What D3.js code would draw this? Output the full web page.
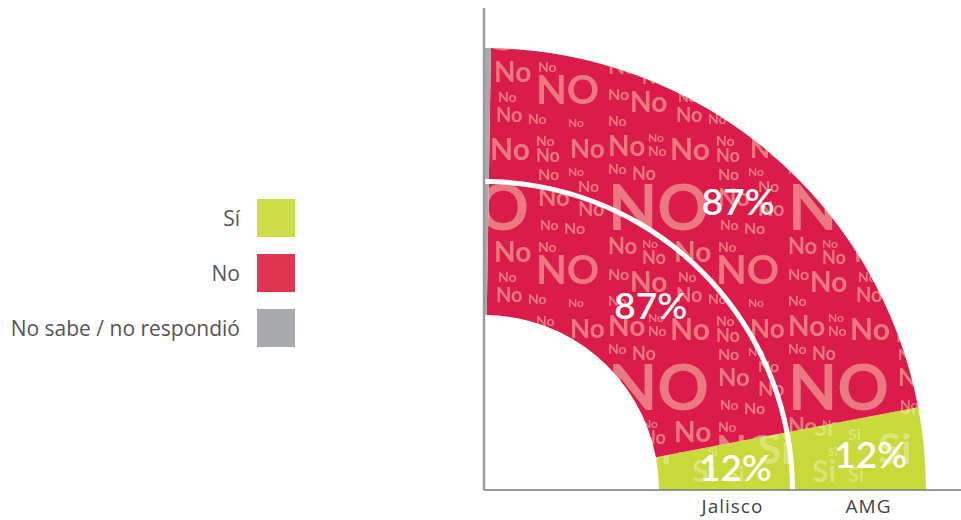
<!DOCTYPE html>
<html><head><meta charset="utf-8">
<script src="https://cdn.jsdelivr.net/npm/d3@7"></script>
<style>body{margin:0;background:#fff}svg{display:block}</style>
</head><body>
<svg id="c" width="961" height="520"></svg>
<script>
const categories = ["Jalisco", "AMG"];
const seriesKeys = ["Sí", "No", "No sabe / no respondió"];
const siValues = [12, 12];
const noValues = [87, 87];
const nsnrValues = [1, 1];
const percentLabels = ["12%", "87%", ""];

const colors = {"Sí": "#c8da3a", "No": "#db1c4a", "No sabe / no respondió": "#a7a9ac"};
const legendColors = {"Sí": "#cddd47", "No": "#e0344f", "No sabe / no respondió": "#a7a9ac"};

const rows = categories.map((c, i) => ({cat: c, "Sí": siValues[i], "No": noValues[i], "No sabe / no respondió": nsnrValues[i]}));
const stacked = d3.stack().keys(seriesKeys)(rows);

const svg = d3.select("#c");
const cx = 484, cy = 490;
const font = "Lato, 'Open Sans', sans-serif";
const labelFont = "'Open Sans', Lato, sans-serif";

// patterns
const defs = svg.append("defs");
function makePattern(id, bg, txtColor, items, w, h) {
  const p = defs.append("pattern").attr("id", id).attr("patternUnits", "userSpaceOnUse")
    .attr("width", w).attr("height", h).attr("x", cx).attr("y", 0);
  p.append("rect").attr("width", w).attr("height", h).attr("fill", bg);
  items.forEach(([x, y, s, t]) => {
    p.append("text").attr("x", x).attr("y", y).attr("font-size", s)
      .attr("font-family", font).attr("font-weight", 700).attr("fill", txtColor).text(t);
  });
}
const noItems = [
  [0, 26, 28, "No"], [40, 12, 12, "No"], [40, 26, 14, "No"], [62, 30, 30, "No"], [108, 16, 14, "No"],
  [108, 32, 18, "No"], [142, 28, 26, "No"], [0, 44, 14, "No"], [24, 50, 18, "No"], [0, 100, 64, "NO"],
  [110, 50, 16, "No"], [140, 46, 12, "No"], [150, 62, 16, "No"], [110, 76, 24, "No"], [150, 86, 20, "No"],
  [112, 100, 14, "No"], [136, 104, 16, "No"], [0, 124, 22, "No"], [34, 118, 12, "No"], [34, 134, 18, "No"],
  [66, 132, 28, "No"], [110, 122, 14, "No"], [108, 154, 40, "NO"], [0, 150, 16, "No"], [22, 162, 28, "No"],
  [70, 152, 14, "No"], [68, 172, 20, "No"], [0, 176, 14, "No"], [100, 174, 14, "No"], [140, 177, 12, "No"]
];
makePattern("patNo", colors["No"], "#ea7a80", noItems, 180, 180);
const siItems = [
  [0, 40, 44, "Si"], [50, 18, 16, "Si"], [52, 44, 20, "Si"], [86, 28, 14, "Si"], [0, 70, 16, "Si"],
  [30, 94, 42, "Si"], [86, 66, 24, "Si"], [0, 112, 20, "Si"], [84, 112, 30, "Si"], [100, 86, 12, "Si"]
];
makePattern("patSi", colors["Sí"], "rgba(228,236,160,0.6)", siItems, 120, 120);

const rScale = d3.scaleBand().domain(categories).range([175, 442]).paddingInner(0.037);
const aScale = d3.scaleLinear().domain([0, 100]).range([Math.PI / 2, 0]);
const arc = d3.arc()
  .innerRadius(d => rScale(d.data.cat))
  .outerRadius(d => rScale(d.data.cat) + rScale.bandwidth())
  .startAngle(d => aScale(d[0]))
  .endAngle(d => aScale(d[1]));

const fills = {"Sí": "url(#patSi)", "No": "url(#patNo)", "No sabe / no respondió": colors["No sabe / no respondió"]};
const g = svg.append("g").attr("transform", `translate(${cx},${cy})`);
stacked.forEach(s => {
  g.selectAll(null).data(s).enter().append("path")
    .attr("d", arc).attr("fill", fills[s.key]);
});

// axes
svg.append("line").attr("x1", cx).attr("x2", cx).attr("y1", 8).attr("y2", cy)
  .attr("stroke", "#9b9b9b").attr("stroke-width", 2.5);
svg.append("line").attr("x1", cx).attr("x2", 961).attr("y1", cy).attr("y2", cy)
  .attr("stroke", "#7a7a7a").attr("stroke-width", 1.5);

// value labels
stacked.forEach((s, si) => {
  if (!percentLabels[si]) return;
  s.forEach(d => {
    const [x, y] = arc.centroid(d);
    g.append("text").attr("x", x + 12).attr("y", y).attr("dy", "0.36em")
      .attr("text-anchor", "middle").attr("font-family", font).attr("font-size", 37)
      .attr("font-weight", 600).attr("fill", "#fff").text(percentLabels[si]);
  });
});

// category labels
categories.forEach(c => {
  svg.append("text").attr("x", cx + rScale(c) + rScale.bandwidth() / 2 + 8).attr("y", 513)
    .attr("text-anchor", "middle").attr("font-family", labelFont).attr("font-size", 19)
    .attr("letter-spacing", 1).attr("fill", "#444").text(c);
});

// legend
const lg = svg.append("g");
seriesKeys.forEach((k, i) => {
  const y = 199 + i * 55;
  lg.append("rect").attr("x", 257).attr("y", y).attr("width", 38).attr("height", 38)
    .attr("fill", legendColors[k]);
  lg.append("text").attr("x", 240).attr("y", y + 19).attr("dy", "0.36em")
    .attr("text-anchor", "end").attr("font-family", labelFont).attr("font-size", 21)
    .attr("fill", "#555").text(k);
});
</script>
</body></html>
